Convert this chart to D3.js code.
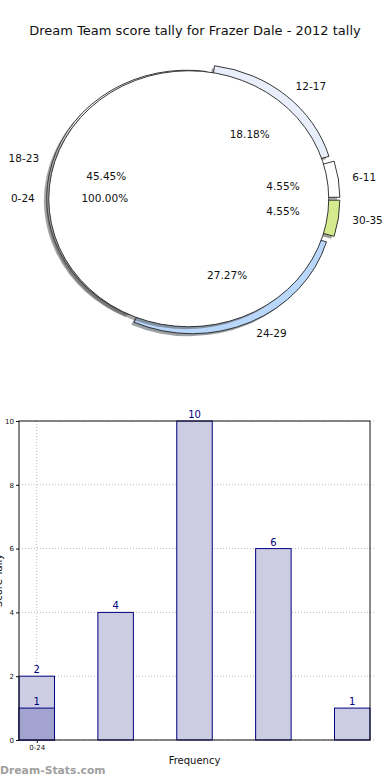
<!DOCTYPE html>
<html>
<head>
<meta charset="utf-8">
<script src="https://cdn.jsdelivr.net/npm/d3@7"></script>
<style>
  html, body { margin: 0; padding: 0; background: #fff; }
  svg { display: block; font-family: "DejaVu Sans", sans-serif; }
</style>
</head>
<body>
<svg id="chart" width="390" height="780"></svg>
<script>
// ---------- data ----------
const title = "Dream Team score tally for Frazer Dale - 2012 tally";

const outerLabels = ["6-11", "12-17", "18-23", "24-29", "30-35"];
const outerValues = [1, 4, 10, 6, 1];
const outerColors = ["#ffffff", "#e8effb", "#ffffff", "#b9d7fb", "#d4ea8c"];

const innerLabels = ["0-24"];
const innerValues = [22];
const innerColors = ["#ffffff"];

const barValues = [2, 4, 10, 6, 1];
const overlayValues = [1];
const xTickLabels = ["0-24"];
const yTicks = [0, 2, 4, 6, 8, 10];
const xAxisTitle = "Frequency";
const yAxisTitle = "Score Tally";
const watermark = "Dream-Stats.com";

// ---------- style / layout ----------
const explodeBy = { "6-11": 0.08, "12-17": 0.065, "18-23": 0.014, "24-29": 0.06, "30-35": 0.08 };

const svg = d3.select("#chart");

svg.append("text")
  .attr("x", 195).attr("y", 35)
  .attr("text-anchor", "middle")
  .attr("font-size", 13)
  .attr("fill", "#111")
  .text(title);

// ---------- pie ----------
const cx = 188.75, cy = 198.75, sx = 140, sy = 128;
const pieGen = d3.pie().sort(null)
  .startAngle(Math.PI / 2)
  .endAngle(Math.PI / 2 - 2 * Math.PI);
const arcGen = d3.arc().innerRadius(0).outerRadius(1);

const pieRoot = svg.append("g").attr("transform", `translate(${cx},${cy}) scale(${sx},${sy})`);

function shade(c) {
  const r = d3.rgb(c);
  return d3.rgb(r.r * 0.3, r.g * 0.3, r.b * 0.3).toString();
}

function drawPie(values, labels, colors, explodeFn) {
  const arcs = pieGen(values);
  const total = d3.sum(values);
  const info = arcs.map((a, i) => {
    const mid = (a.startAngle + a.endAngle) / 2;
    const e = explodeFn(labels[i]);
    return { a, i, mid, e, ox: e * Math.sin(mid), oy: -e * Math.cos(mid) };
  });
  pieRoot.append("g").selectAll("path").data(info).join("path")
    .attr("transform", d => `translate(${d.ox - 0.02},${d.oy + 0.02})`)
    .attr("d", d => arcGen(d.a))
    .attr("fill", d => shade(colors[d.i]))
    .attr("fill-opacity", 0.5);
  pieRoot.append("g").selectAll("path").data(info).join("path")
    .attr("transform", d => `translate(${d.ox},${d.oy})`)
    .attr("d", d => arcGen(d.a))
    .attr("fill", d => colors[d.i])
    .attr("stroke", "#222")
    .attr("stroke-width", 0.9)
    .attr("vector-effect", "non-scaling-stroke");
  info.forEach(d => {
    const ux = Math.sin(d.mid), uy = -Math.cos(d.mid);
    const lx = cx + (d.ox + 1.1 * ux) * sx;
    const ly = cy + (d.oy + 1.1 * uy) * sy;
    svg.append("text")
      .attr("x", lx).attr("y", ly)
      .attr("dy", "0.35em")
      .attr("text-anchor", ux > 0 ? "start" : "end")
      .attr("font-size", 10.5).attr("fill", "#111")
      .text(labels[d.i]);
    const px = cx + (d.ox + 0.6 * ux) * sx;
    const py = cy + (d.oy + 0.6 * uy) * sy;
    svg.append("text")
      .attr("x", px).attr("y", py)
      .attr("dy", "0.35em")
      .attr("text-anchor", "middle")
      .attr("font-size", 10.5).attr("fill", "#111")
      .text((values[d.i] / total * 100).toFixed(2) + "%");
  });
}

drawPie(outerValues, outerLabels, outerColors, l => explodeBy[l] || 0);
drawPie(innerValues, innerLabels, innerColors, () => 0);

// ---------- bar chart ----------
const pLeft = 19, pRight = 370, pTop = 421, pBottom = 740;
const x = d3.scaleLinear().domain([-0.225, 4.225]).range([pLeft, pRight]);
const y = d3.scaleLinear().domain([0, 10]).range([pBottom, pTop]);
const bw = 0.45;

const g = svg.append("g");

g.append("g").selectAll("line").data(yTicks).join("line")
  .attr("x1", pLeft).attr("x2", pRight + 4)
  .attr("y1", d => y(d)).attr("y2", d => y(d))
  .attr("stroke", "#bbb").attr("stroke-width", 1)
  .attr("stroke-dasharray", "1,2");
g.append("g").selectAll("line").data(xTickLabels).join("line")
  .attr("x1", (d, i) => x(i)).attr("x2", (d, i) => x(i))
  .attr("y1", pTop).attr("y2", pBottom)
  .attr("stroke", "#bbb").attr("stroke-width", 1)
  .attr("stroke-dasharray", "1,2");

g.append("g").selectAll("rect").data(barValues).join("rect")
  .attr("x", (d, i) => x(i - bw / 2))
  .attr("width", x(bw) - x(0))
  .attr("y", d => y(d))
  .attr("height", d => y(0) - y(d))
  .attr("fill", "#ccccE2")
  .attr("stroke", "#000080").attr("stroke-width", 1);

g.append("g").selectAll("rect").data(overlayValues).join("rect")
  .attr("x", (d, i) => x(i - bw / 2))
  .attr("width", x(bw) - x(0))
  .attr("y", d => y(d))
  .attr("height", d => y(0) - y(d))
  .attr("fill", "#a3a3cf")
  .attr("stroke", "#000080").attr("stroke-width", 1);

g.append("g").selectAll("text").data(barValues).join("text")
  .attr("x", (d, i) => x(i))
  .attr("y", d => y(d) - 3)
  .attr("text-anchor", "middle")
  .attr("font-size", 10).attr("fill", "#000080")
  .text(d => d);
g.append("g").selectAll("text").data(overlayValues).join("text")
  .attr("x", (d, i) => x(i))
  .attr("y", d => y(d) - 3)
  .attr("text-anchor", "middle")
  .attr("font-size", 10).attr("fill", "#000080")
  .text(d => d);

g.append("rect")
  .attr("x", pLeft).attr("y", pTop)
  .attr("width", pRight - pLeft).attr("height", pBottom - pTop)
  .attr("fill", "none").attr("stroke", "#111").attr("stroke-width", 1);

const yAxis = d3.axisLeft(y).tickValues(yTicks).tickSize(3).tickPadding(2).tickFormat(d3.format("d"));
const ya = g.append("g").attr("transform", `translate(${pLeft},0)`).call(yAxis);
ya.select(".domain").remove();
ya.selectAll("text").attr("font-size", 7).attr("font-family", "DejaVu Sans").attr("fill", "#111");
ya.selectAll("line").attr("stroke", "#111");

const xAxis = d3.axisBottom(x).tickValues(xTickLabels.map((d, i) => i))
  .tickFormat((d, i) => xTickLabels[i]).tickSize(3).tickPadding(2);
const xa = g.append("g").attr("transform", `translate(0,${pBottom})`).call(xAxis);
xa.select(".domain").remove();
xa.selectAll("text").attr("font-size", 7).attr("font-family", "DejaVu Sans").attr("fill", "#111");
xa.selectAll("line").attr("stroke", "#111");

svg.append("text")
  .attr("x", x(2)).attr("y", 764)
  .attr("text-anchor", "middle")
  .attr("font-size", 10).attr("fill", "#111")
  .text(xAxisTitle);

svg.append("text")
  .attr("transform", `translate(2,${(pTop + pBottom) / 2}) rotate(-90)`)
  .attr("text-anchor", "middle")
  .attr("font-size", 10).attr("fill", "#111")
  .text(yAxisTitle);

svg.append("text")
  .attr("x", 0).attr("y", 774)
  .attr("font-size", 10.8).attr("font-weight", "bold")
  .attr("fill", "#a0a0a0")
  .text(watermark);
</script>
</body>
</html>
